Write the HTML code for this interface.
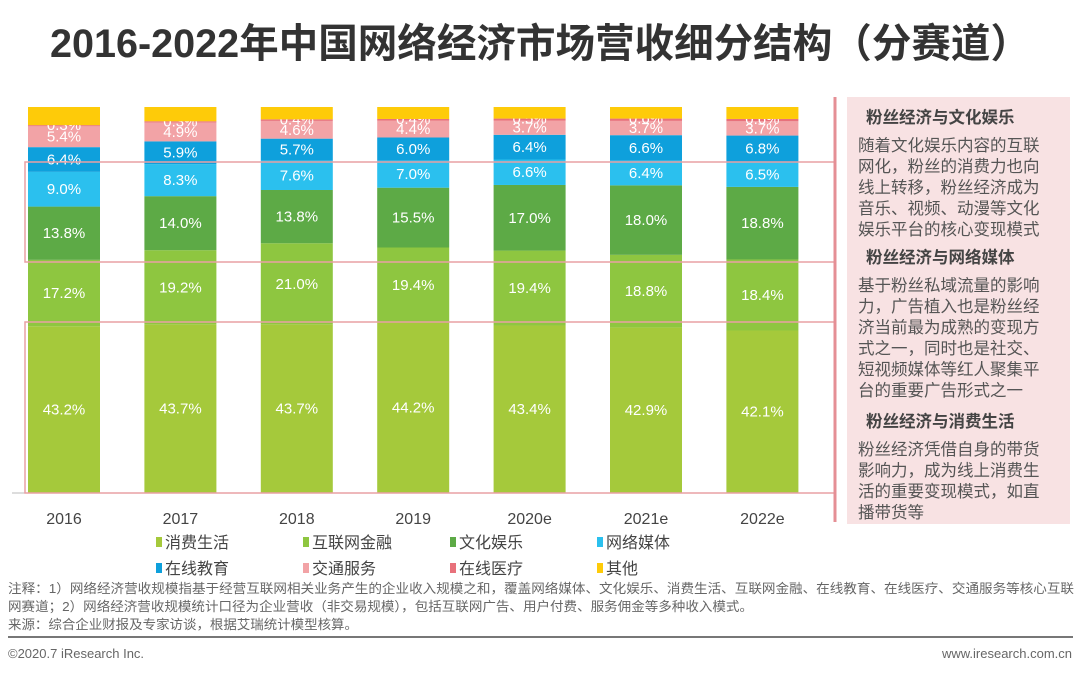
<!DOCTYPE html>
<html><head><meta charset="utf-8"><style>
body{margin:0;width:1080px;height:672px;background:#fff;overflow:hidden;font-family:"Liberation Sans","Noto Sans CJK SC",sans-serif;}
svg text{font-family:"Liberation Sans","Noto Sans CJK SC",sans-serif;}
</style></head><body>
<svg id="chart" width="1080" height="672" xmlns="http://www.w3.org/2000/svg">
<text x="50" y="57" font-size="40" font-weight="bold" fill="#333" textLength="980" lengthAdjust="spacingAndGlyphs">2016-2022年中国网络经济市场营收细分结构（分赛道）</text>
<g id="bars"></g>
<g id="xaxis"></g>
<line x1="12" y1="493" x2="818" y2="493" stroke="#bbb" stroke-width="1"/>
<rect x="25" y="162" width="810" height="100" fill="none" stroke="#e8a0a4" stroke-width="1.5"/>
<rect x="25" y="322" width="810" height="171" fill="none" stroke="#e8a0a4" stroke-width="1.5"/>
<line x1="835" y1="97" x2="835" y2="522" stroke="#e58f95" stroke-width="3"/>
<rect x="847" y="97" width="223" height="427" fill="#f8e2e3"/>
<g font-size="16.5" fill="#555">
<text x="866" y="123" font-weight="bold" fill="#444">粉丝经济与文化娱乐</text>
<text x="858" y="151">随着文化娱乐内容的互联</text>
<text x="858" y="172">网化，粉丝的消费力也向</text>
<text x="858" y="193">线上转移，粉丝经济成为</text>
<text x="858" y="214">音乐、视频、动漫等文化</text>
<text x="858" y="235">娱乐平台的核心变现模式</text>
<text x="866" y="263" font-weight="bold" fill="#444">粉丝经济与网络媒体</text>
<text x="858" y="291">基于粉丝私域流量的影响</text>
<text x="858" y="312">力，广告植入也是粉丝经</text>
<text x="858" y="333">济当前最为成熟的变现方</text>
<text x="858" y="354">式之一，同时也是社交、</text>
<text x="858" y="375">短视频媒体等红人聚集平</text>
<text x="858" y="396">台的重要广告形式之一</text>
<text x="866" y="427" font-weight="bold" fill="#444">粉丝经济与消费生活</text>
<text x="858" y="455">粉丝经济凭借自身的带货</text>
<text x="858" y="476">影响力，成为线上消费生</text>
<text x="858" y="497">活的重要变现模式，如直</text>
<text x="858" y="518">播带货等</text>
</g>
<g id="legend"></g>
<g font-size="13" fill="#666">
<text x="8" y="593" textLength="1066" lengthAdjust="spacingAndGlyphs">注释：1）网络经济营收规模指基于经营互联网相关业务产生的企业收入规模之和，覆盖网络媒体、文化娱乐、消费生活、互联网金融、在线教育、在线医疗、交通服务等核心互联</text>
<text x="8" y="611" textLength="745" lengthAdjust="spacingAndGlyphs">网赛道；2）网络经济营收规模统计口径为企业营收（非交易规模），包括互联网广告、用户付费、服务佣金等多种收入模式。</text>
<text x="8" y="629" textLength="350" lengthAdjust="spacingAndGlyphs">来源：综合企业财报及专家访谈，根据艾瑞统计模型核算。</text>
</g>
<line x1="8" y1="637" x2="1073" y2="637" stroke="#777" stroke-width="2"/>
<text x="8" y="658" font-size="13" fill="#666">©2020.7 iResearch Inc.</text>
<text x="1072" y="658" font-size="13" fill="#666" text-anchor="end">www.iresearch.com.cn</text>
</svg>
<script>
const years = ["2016","2017","2018","2019","2020e","2021e","2022e"];
const seriesNames = ["消费生活","互联网金融","文化娱乐","网络媒体","在线教育","交通服务","在线医疗","其他"];
const consumer = [43.2,43.7,43.7,44.2,43.4,42.9,42.1];
const finance = [17.2,19.2,21.0,19.4,19.4,18.8,18.4];
const entertainment = [13.8,14.0,13.8,15.5,17.0,18.0,18.8];
const media = [9.0,8.3,7.6,7.0,6.6,6.4,6.5];
const education = [6.4,5.9,5.7,6.0,6.4,6.6,6.8];
const transport = [5.4,4.9,4.6,4.4,3.7,3.7,3.7];
const medical = [0.3,0.3,0.4,0.4,0.5,0.6,0.6];
const other = [4.7,3.7,3.2,3.1,3.0,3.0,3.1];
const series = [consumer,finance,entertainment,media,education,transport,medical,other];
const colors = ["#a5c93b","#8ec640","#5daa46","#2bc0ee","#0ea0dc","#f2a3a6","#e8717b","#fecb09"];
const showLabel = [true,true,true,true,true,true,true,false];
const NS="http://www.w3.org/2000/svg";
const plotTop=107, plotBottom=493, x0=64, step=116.4, bw=72;
function xPos(i){return x0+i*step;}
function yScale(v){return (plotBottom-plotTop)*v/100;}
const bars=document.getElementById('bars');
years.forEach((yr,i)=>{
  let total=0; series.forEach(s=>total+=s[i]);
  let y=plotBottom;
  const sc=100/total;
  series.forEach((s,k)=>{
    const h=yScale(s[i]*sc);
    const r=document.createElementNS(NS,'rect');
    
    
    r.setAttribute('x',xPos(i)-bw/2);r.setAttribute('y',y-h);
    r.setAttribute('width',bw);r.setAttribute('height',h);r.setAttribute('fill',colors[k]);
    bars.appendChild(r);
    if(showLabel[k]){
      const t=document.createElementNS(NS,'text');
      
      
      let ly=y-h/2+5;
      if(k===6) ly=y-h+5;
      t.setAttribute('x',xPos(i));t.setAttribute('y',ly);
      t.setAttribute('text-anchor','middle');t.setAttribute('font-size','15');t.setAttribute('fill','#fff');
      t.textContent=s[i].toFixed(1)+'%';
      bars.appendChild(t);
    }
    y-=h;
  });
  const xt=document.createElementNS(NS,'text');
  
  
  xt.setAttribute('x',xPos(i));xt.setAttribute('y',524);xt.setAttribute('text-anchor','middle');
  xt.setAttribute('font-size','16');xt.setAttribute('fill','#444');xt.textContent=yr;
  document.getElementById('xaxis').appendChild(xt);
});
const lg=document.getElementById('legend');
seriesNames.forEach((n,k)=>{
  const col=k%4,row=Math.floor(k/4);
  const lx=156+col*147, ly=542+row*26;
  const g=document.createElementNS(NS,'g');
  
  
  const r=document.createElementNS(NS,'rect');
  r.setAttribute('x',lx);r.setAttribute('y',ly-5);r.setAttribute('width',6);r.setAttribute('height',10);r.setAttribute('fill',colors[k]);
  const t=document.createElementNS(NS,'text');
  t.setAttribute('x',lx+9);t.setAttribute('y',ly+6);t.setAttribute('font-size','16');t.setAttribute('fill','#444');t.textContent=n;
  g.appendChild(r);g.appendChild(t);lg.appendChild(g);
});
</script>
</body></html>
